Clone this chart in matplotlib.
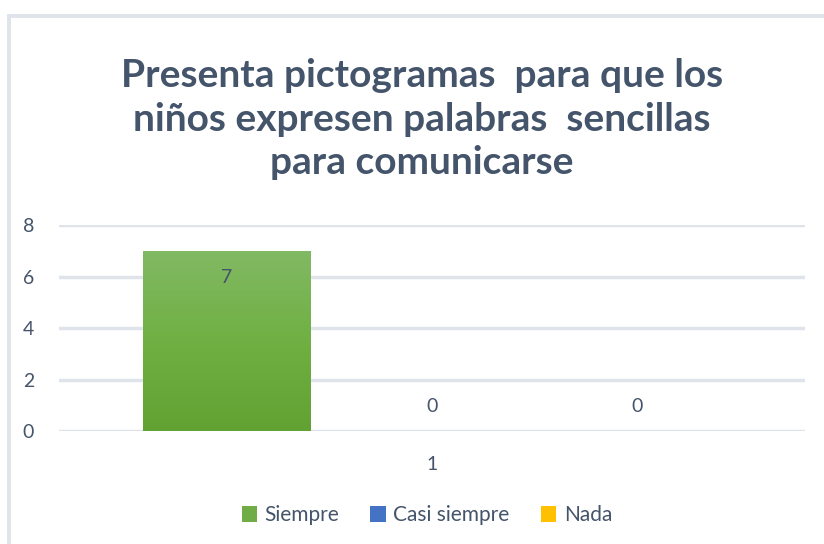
import matplotlib.pyplot as plt
from matplotlib.patches import Rectangle
import numpy as np

plt.rcParams['font.family'] = ['Lato', 'DejaVu Sans']

categorias = ["1"]
series = ["Siempre", "Casi siempre", "Nada"]
valores = [7, 0, 0]
colores = ["#70ad47", "#4472c4", "#ffc000"]
titulo = "Presenta pictogramas  para que los\nniños expresen palabras  sencillas\npara comunicarse"

texto = "#44546a"

fig = plt.figure(figsize=(8.24, 5.44), dpi=100)
ax = fig.add_axes([0.0716, 0.2077, 0.9054, 0.3787])

# marco del gráfico
fig.patches.append(Rectangle((0.0115, -0.05), 1.2, 1.02, transform=fig.transFigure,
                             fill=False, edgecolor="#dfe3ea", linewidth=2.8))

ancho = 0.225
paso = 0.275
for i, (nombre, v, c) in enumerate(zip(series, valores, colores)):
    x = (i - 1) * paso
    bar = ax.bar(x, v, width=ancho, color=c, label=nombre, zorder=3)[0]
    if v > 0:
        # degradado vertical como en Excel
        grad = np.linspace(0, 1, 256).reshape(-1, 1)
        im = ax.imshow(grad, extent=[x - ancho / 2, x + ancho / 2, 0, v], aspect="auto",
                       cmap=plt.matplotlib.colors.LinearSegmentedColormap.from_list(
                           "g", ["#62a233", "#70b043", "#82b964"]),
                       origin="lower", zorder=4)
        im.set_clip_path(bar)
        ax.text(x, v - 1.05, str(v), ha="center", va="center", fontsize=14, color=texto, zorder=5)
    else:
        ax.text(x, v + 0.95, str(v), ha="center", va="center", fontsize=14, color=texto, zorder=5)

ax.set_xlim(-0.5, 0.5)
ax.set_ylim(0, 8)
ax.set_yticks([0, 2, 4, 6, 8])
ax.set_xticks([0])
ax.set_xticklabels(categorias)
ax.tick_params(length=0, labelsize=14, colors=texto)
ax.tick_params(axis="y", pad=18)
ax.tick_params(axis="x", pad=18)
for lbl in ax.get_yticklabels():
    lbl.set_horizontalalignment("right")
ax.grid(axis="y", color="#dfe3ea", linewidth=2.5, zorder=0)
for s in ax.spines.values():
    s.set_visible(False)

fig.text(0.512, 0.781, titulo, ha="center", va="center", fontsize=28, fontweight="bold",
         color=texto, linespacing=1.3)

fig.legend(loc="center", bbox_to_anchor=(0.518, 0.053), ncol=3, frameon=False,
           fontsize=15, labelcolor=texto, handlelength=0.75, handleheight=0.75,
           handletextpad=0.35, columnspacing=1.5)

fig.savefig("out.png", dpi=100)
